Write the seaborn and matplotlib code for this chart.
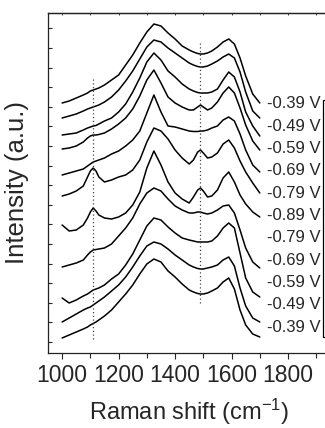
import numpy as np
import pandas as pd
import matplotlib
matplotlib.use("Agg")
import matplotlib.pyplot as plt
import seaborn as sns
from matplotlib.ticker import MultipleLocator
from matplotlib.patches import Rectangle

# Raman shift grid (cm-1)
shift = [1000, 1025, 1050, 1075, 1090, 1100, 1110, 1120, 1130, 1150,
         1175, 1200, 1225, 1250, 1275, 1300, 1325, 1350, 1375, 1400,
         1425, 1450, 1465, 1480, 1490, 1500, 1515, 1530, 1550, 1570,
         1590, 1610, 1630, 1650, 1675, 1700]

# stacked spectra, top to bottom (offset intensities, a.u.)
spec_a = [250, 252, 255, 258, 260, 262, 263, 264, 265, 268,
          273, 278, 288, 298, 310, 321, 329, 327, 320, 314,
          307, 303, 301, 299.5, 299, 299, 300, 302, 306, 311,
          314, 309, 295, 277, 259, 250]
spec_b = [235, 237, 239, 242, 244, 245, 246, 247, 248, 251,
          256, 263, 272, 282, 294, 306, 313, 311, 305, 300,
          295, 290, 288, 286.5, 286, 286, 287, 289, 292, 296,
          299, 295, 281, 261, 242, 235]
spec_c = [218, 219, 220, 223, 225, 226, 227, 227.5, 229, 232,
          235, 241, 249, 261, 275, 291, 300, 293, 282, 276,
          269, 264, 262, 260.5, 260, 260, 260, 261, 264, 273,
          281, 276, 261, 241, 227, 217]
spec_d = [204, 205, 207, 211, 215, 217, 218, 218, 218.5, 220,
          224, 229, 235, 244, 257, 273, 283, 270, 256, 250,
          246, 243, 243, 246, 248, 246, 243, 245, 251, 260,
          266, 260, 245, 228, 212, 203]
spec_e = [178, 180, 182, 184, 187, 189, 191, 192, 193, 195,
          199, 202, 207, 213, 222, 240, 258, 241, 227, 226,
          224, 222, 221.5, 221.5, 222, 222, 223, 225, 227, 233,
          236, 232, 219, 203, 188, 181]
spec_f = [157, 159, 162, 167, 176, 182, 185, 182, 176, 171,
          173, 176, 178, 183, 193, 211, 225, 222, 214, 203,
          195, 189, 193, 201, 203, 200, 195, 196, 200, 209,
          213, 205, 192, 181, 170, 160]
spec_g = [128, 122, 123, 128, 135, 141, 145, 142, 138, 135,
          134, 136, 140, 148, 161, 185, 202, 188, 171, 160,
          154, 150, 156, 163, 165, 162, 156, 157, 163, 175,
          181, 171, 158, 149, 141, 136]
spec_h = [86, 88, 90, 93, 98, 101, 103, 103.5, 104, 105,
          109, 117, 125, 135, 149, 160, 165, 162, 154, 147,
          143, 140, 140, 141, 141, 140, 139, 140, 143, 147,
          148, 140, 123, 105, 91, 85]
spec_i = [55, 50, 53, 57, 59, 61, 63, 64, 65, 68,
          74, 79, 88, 99, 113, 127, 135, 133, 126, 120,
          115, 113, 112, 111, 111, 111, 111, 112, 117, 125,
          130, 125, 100, 75, 61, 56]
spec_j = [31, 35, 39, 43, 45, 46, 48, 50, 52, 56,
          62, 68, 76, 86, 97, 107, 111, 109, 104, 98,
          93, 88, 86, 84.5, 84, 84, 85, 86, 88, 93,
          96, 87, 65, 47, 35, 31]
spec_k = [15, 18, 21, 24, 26, 28, 29.5, 31, 33, 37,
          43, 51, 59, 68, 79, 89, 94, 91, 82, 76,
          69, 63, 61, 59.5, 59, 59, 60, 62, 65, 71,
          75, 64, 43, 28, 19, 16]

spectra = [spec_a, spec_b, spec_c, spec_d, spec_e, spec_f,
           spec_g, spec_h, spec_i, spec_j, spec_k]
potentials = ["-0.39 V", "-0.49 V", "-0.59 V", "-0.69 V", "-0.79 V", "-0.89 V",
              "-0.79 V", "-0.69 V", "-0.59 V", "-0.49 V", "-0.39 V"]

# dotted marker lines (x, y from, y to)
marker_x = [1110, 1488]
marker_lo = [14, 50]
marker_hi = [275, 311]

rows = []
for k, s in enumerate(spectra):
    for x, y in zip(shift, s):
        rows.append({"shift": x, "intensity": y, "curve": k})
df = pd.DataFrame(rows)

sns.set_style("ticks")
plt.rcParams["font.family"] = ["Liberation Sans", "DejaVu Sans"]
plt.rcParams["mathtext.fontset"] = "custom"
plt.rcParams["mathtext.rm"] = "Liberation Sans"
plt.rcParams["mathtext.it"] = "Liberation Sans"
plt.rcParams["axes.edgecolor"] = "#222222"

fig = plt.figure(figsize=(3.25, 4.28), dpi=100)
# axes run past the right edge of the figure, as in the cropped original
ax = fig.add_axes([48 / 325, 75 / 428, 282.4 / 325, 340 / 428])

sns.lineplot(data=df, x="shift", y="intensity", hue="curve",
             palette=["black"] * len(spectra), legend=False, lw=1.1, ax=ax)

ax.vlines(marker_x, marker_lo, marker_hi, colors="#444444",
          linestyles=(0, (1, 2)), lw=0.9)

lab_y = np.linspace(249, 26, len(potentials))
for lab, yy in zip(potentials, lab_y):
    ax.text(1724, yy, lab, fontsize=12, va="center", ha="left")

ax.add_patch(Rectangle((1924, 16), 300, 237, fill=False, ec="black", lw=0.9,
                       clip_on=False))

ax.set_xlim(950, 1950)
ax.set_ylim(0, 340)
ax.xaxis.set_major_locator(MultipleLocator(200))
ax.xaxis.set_minor_locator(MultipleLocator(100))
ax.yaxis.set_major_locator(MultipleLocator(19.6, offset=11))
ax.set_yticklabels([])
ax.tick_params(axis="x", which="major", direction="out", length=4, width=0.8,
               labelsize=16.5, pad=4)
ax.tick_params(axis="x", which="minor", direction="out", length=3.5, width=0.8)
ax.tick_params(axis="y", direction="in", length=3, width=0.8, right=False)

top = ax.secondary_xaxis("top")
top.xaxis.set_major_locator(MultipleLocator(100))
top.tick_params(direction="in", length=1.5, width=0.6, labeltop=False)

for side in ["left", "bottom", "top"]:
    ax.spines[side].set_linewidth(0.9)
ax.spines["right"].set_visible(False)
top.spines["top"].set_linewidth(0.9)

ax.set_xlabel("Raman shift (cm$^{-1}$)", fontsize=17, labelpad=7)
ax.set_ylabel("Intensity (a.u.)", fontsize=18.5, labelpad=10)

fig.savefig("out.png", dpi=100)
